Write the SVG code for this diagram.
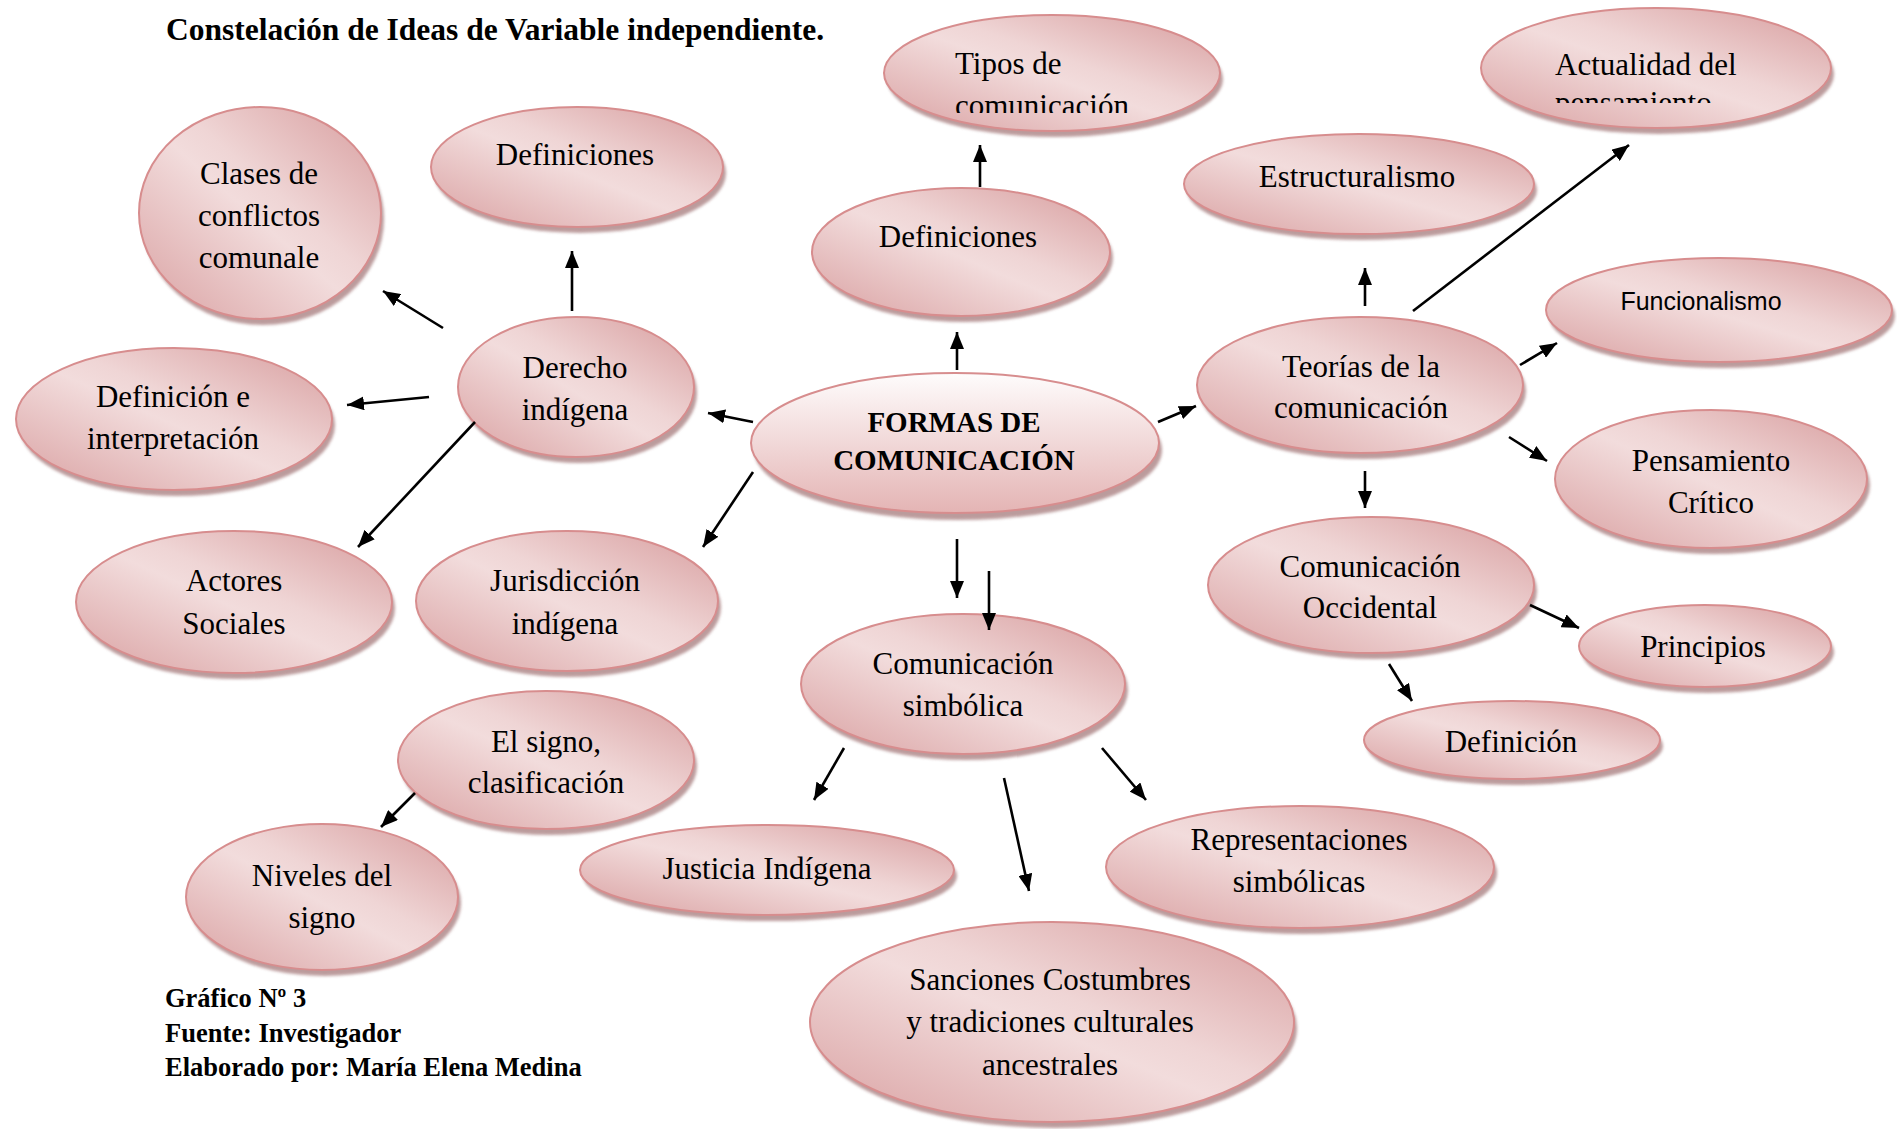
<svg xmlns="http://www.w3.org/2000/svg" width="1897" height="1129" viewBox="0 0 1897 1129">
<defs>
<linearGradient id="gp" x1="0" y1="1" x2="1" y2="0">
<stop offset="0" stop-color="#d9a0a1"/>
<stop offset="0.48" stop-color="#f2dcdc"/>
<stop offset="0.58" stop-color="#efd5d5"/>
<stop offset="1" stop-color="#d79c9d"/>
</linearGradient>
<linearGradient id="gc" x1="0" y1="0" x2="0" y2="1">
<stop offset="0" stop-color="#fefcfc"/>
<stop offset="1" stop-color="#e4b4b4"/>
</linearGradient>
<filter id="sh" x="-10%" y="-10%" width="120%" height="130%">
<feGaussianBlur stdDeviation="1.5"/>
</filter>
<marker id="ah" markerUnits="userSpaceOnUse" markerWidth="18" markerHeight="14" refX="17" refY="7" orient="auto">
<path d="M0,0 L17,7 L0,14 z" fill="#000"/>
</marker>
<clipPath id="clipTipos"><rect x="880" y="0" width="350" height="113"/></clipPath>
<clipPath id="clipAct"><rect x="1470" y="0" width="380" height="103"/></clipPath>
</defs>
<style>
.sh{fill:#b08a8b;opacity:0.85;filter:url(#sh)}
.el{fill:url(#gp);stroke:#d78d8e;stroke-width:2}
.ec{fill:url(#gc);stroke:#d78d8e;stroke-width:2}
.t{font-family:"Liberation Serif","Times New Roman",serif;font-size:31px;fill:#000;text-anchor:middle}
.tl{font-family:"Liberation Serif","Times New Roman",serif;font-size:31px;fill:#000}
.tb{font-family:"Liberation Serif","Times New Roman",serif;font-size:29px;font-weight:bold;fill:#000;text-anchor:middle}
.ts{font-family:"Liberation Sans",Arial,sans-serif;font-size:25px;fill:#000;text-anchor:middle}
.h{font-family:"Liberation Serif","Times New Roman",serif;font-weight:bold;fill:#000}
.c line{stroke:#000;stroke-width:2.6;marker-end:url(#ah)}
</style>
<rect width="1897" height="1129" fill="#fff"/>
<text class="h" x="166" y="40" font-size="31.5">Constelación de Ideas de Variable independiente.</text>
<g class="h" font-size="26.5">
<text x="165" y="1007">Gráfico Nº 3</text>
<text x="165" y="1042">Fuente: Investigador</text>
<text x="165" y="1076">Elaborado por: María Elena Medina</text>
</g>

<g id="n-tipos">
<ellipse class="sh" cx="1055" cy="79" rx="168" ry="58"/>
<ellipse class="el" cx="1052" cy="73" rx="168" ry="58"/>
<g clip-path="url(#clipTipos)">
<text class="tl" x="955" y="74">Tipos de</text>
<text class="tl" x="955" y="116">comunicación</text>
</g>
</g>
<g id="n-actualidad">
<ellipse class="sh" cx="1659" cy="74" rx="175" ry="60"/>
<ellipse class="el" cx="1656" cy="68" rx="175" ry="60"/>
<g clip-path="url(#clipAct)">
<text class="tl" x="1555" y="75">Actualidad del</text>
<text class="tl" x="1555" y="113">pensamiento</text>
</g>
</g>
<g id="n-estructuralismo">
<ellipse class="sh" cx="1362" cy="190" rx="175" ry="50"/>
<ellipse class="el" cx="1359" cy="184" rx="175" ry="50"/>
<text class="t" x="1357" y="187">Estructuralismo</text>
</g>
<g id="n-funcionalismo">
<ellipse class="sh" cx="1722" cy="316" rx="173" ry="52"/>
<ellipse class="el" cx="1719" cy="310" rx="173" ry="52"/>
<text class="ts" x="1701" y="310">Funcionalismo</text>
</g>
<g id="n-definiciones-c">
<ellipse class="sh" cx="964" cy="258" rx="149" ry="64"/>
<ellipse class="el" cx="961" cy="252" rx="149" ry="64"/>
<text class="t" x="958" y="247">Definiciones</text>
</g>
<g id="n-definiciones-l">
<ellipse class="sh" cx="580" cy="173" rx="146" ry="60"/>
<ellipse class="el" cx="577" cy="167" rx="146" ry="60"/>
<text class="t" x="575" y="165">Definiciones</text>
</g>
<g id="n-clases">
<ellipse class="sh" cx="263" cy="219" rx="121" ry="106"/>
<ellipse class="el" cx="260" cy="213" rx="121" ry="106"/>
<text class="t" x="259" y="184">Clases de</text>
<text class="t" x="259" y="226">conflictos</text>
<text class="t" x="259" y="268">comunale</text>
</g>
<g id="n-derecho">
<ellipse class="sh" cx="579" cy="393" rx="118" ry="70"/>
<ellipse class="el" cx="576" cy="387" rx="118" ry="70"/>
<text class="t" x="575" y="378">Derecho</text>
<text class="t" x="575" y="420">indígena</text>
</g>
<g id="n-definicion-interp">
<ellipse class="sh" cx="177" cy="425" rx="158" ry="71"/>
<ellipse class="el" cx="174" cy="419" rx="158" ry="71"/>
<text class="t" x="173" y="407">Definición e</text>
<text class="t" x="173" y="449">interpretación</text>
</g>
<g id="n-actores">
<ellipse class="sh" cx="237" cy="608" rx="158" ry="71"/>
<ellipse class="el" cx="234" cy="602" rx="158" ry="71"/>
<text class="t" x="234" y="591">Actores</text>
<text class="t" x="234" y="634">Sociales</text>
</g>
<g id="n-jurisdiccion">
<ellipse class="sh" cx="570" cy="607" rx="151" ry="70"/>
<ellipse class="el" cx="567" cy="601" rx="151" ry="70"/>
<text class="t" x="565" y="591">Jurisdicción</text>
<text class="t" x="565" y="634">indígena</text>
</g>
<g id="n-formas">
<ellipse class="sh" cx="958" cy="450" rx="204" ry="70"/>
<ellipse class="ec" cx="955" cy="443" rx="204" ry="70"/>
<text class="tb" x="954" y="432">FORMAS DE</text>
<text class="tb" x="954" y="470">COMUNICACIÓN</text>
</g>
<g id="n-simbolica">
<ellipse class="sh" cx="966" cy="690" rx="162" ry="70"/>
<ellipse class="el" cx="963" cy="684" rx="162" ry="70"/>
<text class="t" x="963" y="674">Comunicación</text>
<text class="t" x="963" y="716">simbólica</text>
</g>
<g id="n-signo">
<ellipse class="sh" cx="549" cy="766" rx="148" ry="69"/>
<ellipse class="el" cx="546" cy="760" rx="148" ry="69"/>
<text class="t" x="546" y="752">El signo,</text>
<text class="t" x="546" y="793">clasificación</text>
</g>
<g id="n-niveles">
<ellipse class="sh" cx="325" cy="903" rx="136" ry="73"/>
<ellipse class="el" cx="322" cy="897" rx="136" ry="73"/>
<text class="t" x="322" y="886">Niveles del</text>
<text class="t" x="322" y="928">signo</text>
</g>
<g id="n-justicia">
<ellipse class="sh" cx="770" cy="876" rx="187" ry="45"/>
<ellipse class="el" cx="767" cy="870" rx="187" ry="45"/>
<text class="t" x="767" y="879">Justicia Indígena</text>
</g>
<g id="n-sanciones">
<ellipse class="sh" cx="1055" cy="1028" rx="242" ry="100"/>
<ellipse class="el" cx="1052" cy="1022" rx="242" ry="100"/>
<text class="t" x="1050" y="990">Sanciones Costumbres</text>
<text class="t" x="1050" y="1032">y tradiciones culturales</text>
<text class="t" x="1050" y="1075">ancestrales</text>
</g>
<g id="n-representaciones">
<ellipse class="sh" cx="1303" cy="873" rx="194" ry="61"/>
<ellipse class="el" cx="1300" cy="867" rx="194" ry="61"/>
<text class="t" x="1299" y="850">Representaciones</text>
<text class="t" x="1299" y="892">simbólicas</text>
</g>
<g id="n-teorias">
<ellipse class="sh" cx="1363" cy="391" rx="163" ry="68"/>
<ellipse class="el" cx="1360" cy="385" rx="163" ry="68"/>
<text class="t" x="1361" y="377">Teorías de la</text>
<text class="t" x="1361" y="418">comunicación</text>
</g>
<g id="n-pensamiento">
<ellipse class="sh" cx="1714" cy="485" rx="156" ry="69"/>
<ellipse class="el" cx="1711" cy="479" rx="156" ry="69"/>
<text class="t" x="1711" y="471">Pensamiento</text>
<text class="t" x="1711" y="513">Crítico</text>
</g>
<g id="n-occidental">
<ellipse class="sh" cx="1374" cy="591" rx="163" ry="68"/>
<ellipse class="el" cx="1371" cy="585" rx="163" ry="68"/>
<text class="t" x="1370" y="577">Comunicación</text>
<text class="t" x="1370" y="618">Occidental</text>
</g>
<g id="n-principios">
<ellipse class="sh" cx="1708" cy="652" rx="126" ry="41"/>
<ellipse class="el" cx="1705" cy="646" rx="126" ry="41"/>
<text class="t" x="1703" y="657">Principios</text>
</g>
<g id="n-definicion">
<ellipse class="sh" cx="1515" cy="746" rx="148" ry="39"/>
<ellipse class="el" cx="1512" cy="740" rx="148" ry="39"/>
<text class="t" x="1511" y="752">Definición</text>
</g>

<g id="connectors" class="c">
<line x1="957" y1="370" x2="957" y2="332"/>
<line x1="753" y1="422" x2="708" y2="413"/>
<line x1="753" y1="472" x2="703" y2="547"/>
<line x1="957" y1="539" x2="957" y2="598"/>
<line x1="989" y1="571" x2="989" y2="630"/>
<line x1="980" y1="187" x2="980" y2="145"/>
<line x1="1158" y1="422" x2="1196" y2="406"/>
<line x1="1365" y1="306" x2="1365" y2="268"/>
<line x1="1413" y1="311" x2="1629" y2="145"/>
<line x1="1520" y1="365" x2="1557" y2="343"/>
<line x1="1509" y1="437" x2="1547" y2="461"/>
<line x1="1365" y1="471" x2="1365" y2="508"/>
<line x1="1530" y1="605" x2="1579" y2="628"/>
<line x1="1389" y1="664" x2="1412" y2="701"/>
<line x1="572" y1="311" x2="572" y2="251"/>
<line x1="443" y1="328" x2="383" y2="291"/>
<line x1="429" y1="397" x2="347" y2="405"/>
<line x1="475" y1="422" x2="358" y2="547"/>
<line x1="844" y1="748" x2="814" y2="800"/>
<line x1="1004" y1="778" x2="1029" y2="891"/>
<line x1="1102" y1="748" x2="1146" y2="800"/>
<line x1="415" y1="793" x2="381" y2="827"/>
</g>
</svg>
